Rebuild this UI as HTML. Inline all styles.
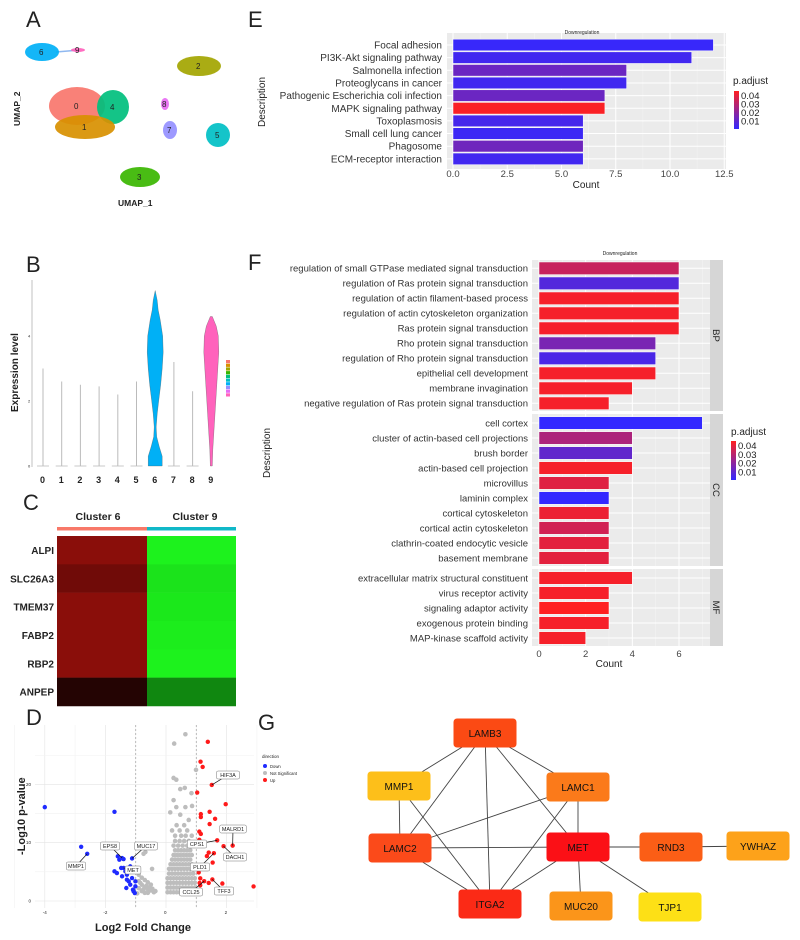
<!DOCTYPE html>
<html><head><meta charset="utf-8"><style>
html,body{margin:0;padding:0;background:#fff}
svg{display:block;font-family:"Liberation Sans",sans-serif}
</style></head><body>
<svg id="fig" width="800" height="940" viewBox="0 0 800 940" xmlns="http://www.w3.org/2000/svg"></svg>
<script>
// ---------- DATA ----------
const keggTerms=["Focal adhesion","PI3K-Akt signaling pathway","Salmonella infection","Proteoglycans in cancer","Pathogenic Escherichia coli infection","MAPK signaling pathway","Toxoplasmosis","Small cell lung cancer","Phagosome","ECM-receptor interaction"];
const keggCounts=[12,11,8,8,7,7,6,6,6,6];
const keggPadj=[0.002,0.004,0.013,0.004,0.013,0.044,0.005,0.003,0.014,0.004];
const eTicks=[0,2.5,5,7.5,10,12.5];
const eTickLabels=["0.0","2.5","5.0","7.5","10.0","12.5"];

const bpTerms=["regulation of small GTPase mediated signal transduction","regulation of Ras protein signal transduction","regulation of actin filament-based process","regulation of actin cytoskeleton organization","Ras protein signal transduction","Rho protein signal transduction","regulation of Rho protein signal transduction","epithelial cell development","membrane invagination","negative regulation of Ras protein signal transduction"];
const bpCounts=[6,6,6,6,6,5,5,5,4,3];
const bpPadj=[0.033,0.008,0.043,0.043,0.043,0.016,0.006,0.043,0.043,0.043];
const ccTerms=["cell cortex","cluster of actin-based cell projections","brush border","actin-based cell projection","microvillus","laminin complex","cortical cytoskeleton","cortical actin cytoskeleton","clathrin-coated endocytic vesicle","basement membrane"];
const ccCounts=[7,4,4,4,3,3,3,3,3,3];
const ccPadj=[0.001,0.027,0.011,0.043,0.038,0.001,0.041,0.035,0.039,0.039];
const mfTerms=["extracellular matrix structural constituent","virus receptor activity","signaling adaptor activity","exogenous protein binding","MAP-kinase scaffold activity"];
const mfCounts=[4,3,3,3,2];
const mfPadj=[0.043,0.043,0.045,0.043,0.043];
const fTicks=[0,2,4,6];

const violinClusters=["0","1","2","3","4","5","6","7","8","9"];
const violinMax=[3.0,2.6,2.5,2.45,2.2,2.6,5.4,3.2,2.3,4.6];
const violinLevels6=[0,0.3,0.6,0.9,1.2,1.6,2,2.5,3,3.5,4,4.5,4.8,5.1,5.4];
const violinDensity6=[7,7,4,1.5,1,2,3.5,5.5,7,8,7.5,5,3,2,0];
const violinLevels9=[0,0.5,1,1.5,2,2.5,3,3.5,4,4.3,4.6];
const violinDensity9=[1,1.5,2.5,3.5,4.5,5.5,6.5,7.5,7,5,1];
const violinColors=["#f8766d","#d89000","#a3a500","#39b600","#00bf7d","#00bfc4","#00b0f6","#9590ff","#e76bf3","#ff62bc"];

const heatGenes=["ALPI","SLC26A3","TMEM37","FABP2","RBP2","ANPEP"];
const heatCluster6=[0.54,0.44,0.54,0.54,0.54,0.14];
const heatCluster9=[-0.95,-0.89,-0.91,-0.93,-0.95,-0.53];

const downPts=[[-4.0,16.1],[-1.7,15.3],[-2.8,9.3],[-2.6,8.1],[-1.59,7.66],[-1.54,7.09],[-1.45,7.37],[-1.40,7.2],[-1.12,7.31],[-1.70,5.09],[-1.62,4.8],[-1.48,5.66],[-1.45,4.23],[-1.34,5.09],[-1.29,3.66],[-1.23,3.37],[-1.31,2.23],[-1.18,2.8],[-1.09,1.94],[-1.07,1.66],[-1.03,1.37],[-1.01,2.51],[-1.12,3.94],[-1.40,5.66],[-1.18,5.94],[-1.01,3.37],[-1.29,4.51]];
const upPts=[[1.38,27.3],[1.14,23.9],[1.21,23.0],[1.03,18.6],[1.51,19.9],[1.97,16.6],[1.15,14.9],[1.15,14.4],[1.44,15.3],[1.62,14.1],[1.44,13.2],[1.10,11.9],[1.15,11.5],[1.69,10.4],[2.20,9.5],[1.90,9.4],[1.10,10.5],[1.41,8.3],[1.58,8.2],[1.54,6.6],[1.08,4.9],[1.13,3.9],[1.26,3.4],[1.11,3.1],[1.13,2.7],[1.41,3.1],[1.53,3.7],[1.86,3.0],[2.89,2.5],[1.35,7.7]];
const nsPts=[[0.64,28.6],[0.27,27],[0.99,22.5],[0.25,21.1],[0.34,20.8],[0.47,19.2],[0.62,19.4],[0.84,18.5],[0.25,17.3],[0.34,16.1],[0.64,16.1],[0.86,16.3],[0.14,15.2],[0.47,14.8],[0.75,13.9],
[-0.68,8.4],[-0.74,8.1],[-0.46,5.5],[-0.9,4.5],[-0.8,4.0],[-0.7,3.6],[-0.6,3.2],[-0.5,2.8],[-0.9,3.4],[-0.8,2.8],[-0.7,2.4],[-0.6,2.0],[-0.5,1.8],[-0.9,2.2],[-0.8,1.7],[-0.7,1.4],[-0.4,1.5],[-0.95,1.3],[-0.85,3.1],[-0.75,2.0],[-0.65,2.6],[-0.55,2.3],[-0.45,2.1],[-0.35,1.7],[-0.6,1.4],
[0.05,1.5],[0.15,1.5],[0.25,1.5],[0.35,1.5],[0.45,1.5],[0.55,1.5],[0.65,1.5],[0.75,1.5],[0.85,1.5],[0.95,1.5],
[0.05,2.3],[0.15,2.3],[0.25,2.3],[0.35,2.3],[0.45,2.3],[0.55,2.3],[0.65,2.3],[0.75,2.3],[0.85,2.3],[0.95,2.3],
[0.05,3.1],[0.15,3.1],[0.25,3.1],[0.35,3.1],[0.45,3.1],[0.55,3.1],[0.65,3.1],[0.75,3.1],[0.85,3.1],[0.95,3.1],
[0.05,3.9],[0.15,3.9],[0.25,3.9],[0.35,3.9],[0.45,3.9],[0.55,3.9],[0.65,3.9],[0.75,3.9],[0.85,3.9],[0.95,3.9],
[0.1,4.7],[0.2,4.7],[0.3,4.7],[0.4,4.7],[0.5,4.7],[0.6,4.7],[0.7,4.7],[0.8,4.7],[0.9,4.7],
[0.1,5.5],[0.2,5.5],[0.3,5.5],[0.4,5.5],[0.5,5.5],[0.6,5.5],[0.7,5.5],[0.8,5.5],[0.9,5.5],
[0.15,6.3],[0.25,6.3],[0.35,6.3],[0.45,6.3],[0.55,6.3],[0.65,6.3],[0.75,6.3],[0.85,6.3],
[0.2,7.1],[0.3,7.1],[0.4,7.1],[0.5,7.1],[0.6,7.1],[0.7,7.1],[0.8,7.1],
[0.25,7.9],[0.35,7.9],[0.45,7.9],[0.55,7.9],[0.65,7.9],[0.75,7.9],[0.85,7.9],
[0.3,8.7],[0.4,8.7],[0.5,8.7],[0.6,8.7],[0.7,8.7],[0.8,8.7],
[0.25,9.5],[0.4,9.5],[0.55,9.5],[0.7,9.5],[0.85,9.5],
[0.3,10.3],[0.45,10.3],[0.6,10.3],[0.75,10.3],
[0.3,11.2],[0.5,11.2],[0.65,11.2],[0.85,11.2],
[0.2,12.1],[0.45,12.1],[0.7,12.1],[0.35,13.0],[0.6,13.0]];
const volXTicks=[-4,-2,0,2];
const volYTicks=[0,10,20];

const netNodes=["LAMB3","MMP1","LAMC1","LAMC2","MET","RND3","YWHAZ","ITGA2","MUC20","TJP1"];
const netColors=["#fb4a14","#fdbf1a","#fb7a1a","#fb4a1a","#fb1016","#fb5e16","#fda21a","#fb2a16","#fb951a","#fde016"];
const netEdges=[["LAMB3","MMP1"],["LAMB3","LAMC2"],["LAMB3","ITGA2"],["LAMB3","MET"],["LAMB3","LAMC1"],["MMP1","LAMC2"],["MMP1","ITGA2"],["LAMC1","LAMC2"],["LAMC1","ITGA2"],["LAMC1","MET"],["LAMC2","MET"],["LAMC2","ITGA2"],["MET","ITGA2"],["MET","RND3"],["RND3","YWHAZ"],["MET","MUC20"],["MET","TJP1"]];

// ---------- HELPERS ----------
const S=document.getElementById('fig');const NS="http://www.w3.org/2000/svg";
function mk(tag,attrs,name,parent,txt){
  const el=document.createElementNS(NS,tag);
  for(const k in attrs)el.setAttribute(k,attrs[k]);
  
  
  if(txt!==undefined)el.textContent=txt;
  (parent||S).appendChild(el);return el;
}
function padjColor(p){const t=Math.max(0,Math.min(1,(p-0.001)/0.044));
  return `rgb(${Math.round(51+t*204)},${Math.round(40-t*8)},${Math.round(255-t*223)})`;}
function label(x,y,t,size,name,extra){return mk('text',Object.assign({x:x,y:y,'font-size':size,fill:'#222'},extra||{}),name,S,t);}

// panel letters
[["A",26,27],["E",248,27],["B",26,272],["F",248,270],["C",23,510],["D",26,725],["G",258,730]].forEach(l=>{
  label(l[1],l[2],l[0],22,'panel-letter-'+l[0].toLowerCase());
});

// ---------- A: UMAP ----------
const umap=[["#00b0f6",42,52,17,9,"6"],["#ff62bc",78,50,7,2,"9"],["#f8766d",77,106,28,19,"0"],["#00bf7d",113,107,16,17,"4"],["#d89000",85,127,30,12,"1"],["#a3a500",199,66,22,10,"2"],["#e76bf3",165,104,4,6,"8"],["#9590ff",170,130,7,9,"7"],["#00bfc4",218,135,12,12,"5"],["#39b600",140,177,20,10,"3"]];
mk('line',{x1:56,y1:52,x2:80,y2:50,stroke:'#8fb8f0','stroke-width':1.5},'umap-bridge');
umap.forEach(c=>{mk('ellipse',{cx:c[1],cy:c[2],rx:c[3],ry:c[4],fill:c[0],opacity:0.92},'umap-cluster-'+c[5]);});
umap.forEach(c=>{label(c[1]-3,c[2]+3,c[5],8,'umap-label-'+c[5]);});
label(118,206,"UMAP_1",8.5,'umap-x-title',{'font-weight':'bold'});
label(0,0,"UMAP_2",8.5,'umap-y-title',{'font-weight':'bold',transform:'translate(20,126) rotate(-90)'});

// ---------- B: violin ----------
const vx=i=>43+i*18.7, vy=v=>466-v*32.5;
mk('line',{x1:32,y1:280,x2:32,y2:467,stroke:'#999','stroke-width':0.6},'violin-y-axis');
[0,2,4].forEach(t=>label(28,vy(t)+1.5,String(t),4,'violin-y-tick'));
label(0,0,"Expression level",10,'violin-y-title',{'font-weight':'bold',transform:'translate(18,412) rotate(-90)'});
violinClusters.forEach((c,i)=>{
  label(vx(i)-3,483,c,9,'violin-x-label',{'font-weight':'bold'});
  if(i===6||i===9){
    const L=i===6?violinLevels6:violinLevels9, D=i===6?violinDensity6:violinDensity9;
    let d="M"+(vx(i)+D[0])+","+vy(L[0]);
    for(let k=1;k<L.length;k++)d+=" L"+(vx(i)+D[k])+","+vy(L[k]);
    for(let k=L.length-1;k>=0;k--)d+=" L"+(vx(i)-D[k])+","+vy(L[k]);
    mk('path',{d:d+"Z",fill:violinColors[i],stroke:'#555','stroke-width':0.3},'violin-cluster-'+c);
  } else {
    mk('line',{x1:vx(i),y1:vy(0),x2:vx(i),y2:vy(violinMax[i]),stroke:'#bbb','stroke-width':1},'violin-cluster-'+c);
    mk('line',{x1:vx(i)-6,y1:vy(0),x2:vx(i)+6,y2:vy(0),stroke:'#bbb','stroke-width':0.8},'violin-base-'+c);
  }
});
violinColors.forEach((col,i)=>mk('rect',{x:226,y:360+i*3.7,width:4,height:3.2,fill:col},'violin-legend-key'));

// ---------- C: heatmap ----------
label(98,520,"Cluster 6",10.5,'heatmap-col-label-6',{'font-weight':'bold','text-anchor':'middle'});
label(195,520,"Cluster 9",10.5,'heatmap-col-label-9',{'font-weight':'bold','text-anchor':'middle'});
mk('rect',{x:57,y:527,width:90,height:3.5,fill:'#f87868'},'cluster6-bar');
mk('rect',{x:147,y:527,width:89,height:3.5,fill:'#10b8c8'},'cluster9-bar');
const hy=i=>536+i*28.33;
heatGenes.forEach((g,i)=>{
  const a=heatCluster6[i],b=heatCluster9[i];
  const col=v=>v>=0?`rgb(${Math.round(255*v)},${Math.round(25*v)},${Math.round(18*v)})`:`rgb(${Math.round(-30*v)},${Math.round(-255*v)},${Math.round(-30*v)})`;
  mk('rect',{x:57,y:hy(i),width:90,height:28.6,fill:col(a)},'heat-cell-c6-'+g);
  mk('rect',{x:147,y:hy(i),width:89,height:28.6,fill:col(b)},'heat-cell-c9-'+g);
  label(54,hy(i)+18,g,10,'heat-gene-'+g,{'font-weight':'bold','text-anchor':'end'});
});

// ---------- D: volcano ----------
const dx=v=>166+v*30.3, dy=v=>901-v*5.83;
[-5,-4,-3,-2,-1,0,1,2,3].forEach(t=>mk('line',{x1:dx(t),y1:725,x2:dx(t),y2:908,stroke:t%2===0?'#e4e4e4':'#f2f2f2','stroke-width':0.6},'volcano-grid-x'));
[0,5,10,15,20,25].forEach(t=>mk('line',{x1:35,y1:dy(t),x2:254,y2:dy(t),stroke:t%10===0?'#e4e4e4':'#f2f2f2','stroke-width':0.6},'volcano-grid-y'));
[-1,1].forEach(t=>mk('line',{x1:dx(t),y1:725,x2:dx(t),y2:908,stroke:'#aaa','stroke-width':0.8,'stroke-dasharray':'2,2'},'volcano-threshold'));
nsPts.forEach(p=>mk('circle',{cx:dx(p[0]),cy:dy(p[1]),r:2.3,fill:'#bdbdbd'},'point-not-significant'));
downPts.forEach(p=>mk('circle',{cx:dx(p[0]),cy:dy(p[1]),r:2.2,fill:'#1f2bff'},'point-down'));
upPts.forEach(p=>mk('circle',{cx:dx(p[0]),cy:dy(p[1]),r:2.2,fill:'#ff1a1a'},'point-up'));
volXTicks.forEach(t=>label(dx(t)-2,914,String(t),4.5,'volcano-x-tick'));
volYTicks.forEach(t=>label(31,dy(t)+1.5,String(t),4.5,'volcano-y-tick',{'text-anchor':'end'}));
const geneLabels=[["HIF3A",228,775,1.51,19.9],["MALRD1",233,829,2.20,9.5],["DACH1",235,857,1.90,9.4],["CPS1",197,844,1.69,10.4],["PLD1",200,867,1.58,8.2],["CCL25",191,892,1.26,3.4],["TFF3",224,891,1.53,3.7],["EPS8",110,846,-1.45,7.37],["MUC17",146,846,-1.12,7.31],["MET",133,870,-1.40,5.66],["MMP1",76,866,-2.6,8.1]];
geneLabels.forEach(g=>{
  mk('line',{x1:g[1],y1:g[2],x2:dx(g[3]),y2:dy(g[4]),stroke:'#111','stroke-width':0.7},'gene-label-leader');
  const w=g[0].length*3.6+5;
  mk('rect',{x:g[1]-w/2,y:g[2]-4,width:w,height:8,rx:1.5,fill:'#fff',stroke:'#777','stroke-width':0.5},'gene-label-box');
  label(g[1],g[2]+2,g[0],5.5,'gene-label-'+g[0],{'text-anchor':'middle'});
});
label(0,0,"-Log10 p-value",11,'volcano-y-title',{'font-weight':'bold',transform:'translate(25,855) rotate(-90)'});
label(95,931,"Log2 Fold Change",11,'volcano-x-title',{'font-weight':'bold'});
label(262,758,"direction",4.5,'volcano-legend-title');
[["#1f2bff","Down"],["#bdbdbd","Not Significant"],["#ff1a1a","Up"]].forEach((e,i)=>{
  mk('circle',{cx:265,cy:766+i*7,r:2,fill:e[0]},'legend-key-'+e[1]);
  label(270,768+i*7,e[1],4.2,'legend-entry-'+e[1]);
});

// ---------- E: KEGG bars ----------
const ex=v=>453+v*21.7, ey=i=>45+i*12.65;
mk('rect',{x:447,y:33,width:279,height:136,fill:'#ebebeb'},'kegg-panel-bg');
[1.25,3.75,6.25,8.75,11.25].forEach(t=>mk('line',{x1:ex(t),y1:33,x2:ex(t),y2:169,stroke:'#f5f5f5','stroke-width':0.5},'kegg-minor-grid'));
eTicks.forEach(t=>mk('line',{x1:ex(t),y1:33,x2:ex(t),y2:169,stroke:'#fff','stroke-width':1},'kegg-major-grid'));
keggTerms.forEach((t,i)=>{
  mk('line',{x1:447,y1:ey(i),x2:726,y2:ey(i),stroke:'#fff','stroke-width':1},'kegg-row-grid');
  mk('rect',{x:ex(0),y:ey(i)-5.8,width:ex(keggCounts[i])-ex(0),height:11.6,fill:padjColor(keggPadj[i]),stroke:'#fff','stroke-width':0.5},'kegg-bar');
  label(442,ey(i)+3.5,t,10,'kegg-term-label',{'text-anchor':'end',fill:'#333'});
});
eTicks.forEach((t,i)=>label(ex(t),177,eTickLabels[i],9.5,'kegg-x-tick',{'text-anchor':'middle',fill:'#444'}));
label(586,188,"Count",10,'kegg-x-title',{'text-anchor':'middle'});
label(0,0,"Description",10,'kegg-y-title',{'text-anchor':'middle',transform:'translate(265,102) rotate(-90)'});
label(582,34,"Downregulation",5,'kegg-title',{'text-anchor':'middle'});
function colorbar(x,y0,y1,name,fs){
  const g=mk('defs',{},name+'-defs');
  const lg=mk('linearGradient',{id:name+'-grad',x1:0,y1:1,x2:0,y2:0},name+'-gradient',g);
  mk('stop',{offset:0,'stop-color':padjColor(0.001)},name+'-stop',lg);
  mk('stop',{offset:1,'stop-color':padjColor(0.045)},name+'-stop',lg);
  mk('rect',{x:x,y:y0,width:5,height:y1-y0,fill:`url(#${name}-grad)`},name);
  [0.01,0.02,0.03,0.04].forEach(v=>{
    const yy=y1-(v-0.001)/0.044*(y1-y0);
    label(x+7,yy+3.5,v.toFixed(2),fs,name+'-tick');
  });
}
label(733,84,"p.adjust",10,'kegg-legend-title');
colorbar(734,91,129,'kegg-colorbar',9.5);

// ---------- F: GO bars ----------
const fx=v=>539+v*23.33;
const facets=[["BP",bpTerms,bpCounts,bpPadj,260,411,268.3],["CC",ccTerms,ccCounts,ccPadj,414,566,423],["MF",mfTerms,mfCounts,mfPadj,569,646,578]];
facets.forEach(f=>{
  mk('rect',{x:532,y:f[4],width:178,height:f[5]-f[4],fill:'#ebebeb'},'go-panel-bg-'+f[0]);
  mk('rect',{x:710,y:f[4],width:13,height:f[5]-f[4],fill:'#d6d6d6'},'go-strip-'+f[0]);
  label(0,0,f[0],9.5,'go-strip-label-'+f[0],{'text-anchor':'middle',transform:`translate(713,${(f[4]+f[5])/2}) rotate(90)`});
  [1,3,5,7].forEach(t=>mk('line',{x1:fx(t),y1:f[4],x2:fx(t),y2:f[5],stroke:'#f5f5f5','stroke-width':0.5},'go-minor-grid'));
  fTicks.forEach(t=>mk('line',{x1:fx(t),y1:f[4],x2:fx(t),y2:f[5],stroke:'#fff','stroke-width':1},'go-major-grid'));
  f[1].forEach((t,i)=>{
    const y=f[6]+i*15;
    mk('line',{x1:532,y1:y,x2:710,y2:y,stroke:'#fff','stroke-width':1},'go-row-grid');
    mk('rect',{x:fx(0),y:y-6.3,width:fx(f[2][i])-fx(0),height:12.6,fill:padjColor(f[3][i]),stroke:'#fff','stroke-width':0.5},'go-bar-'+f[0]);
    label(528,y+3.3,t,9.5,'go-term-label',{'text-anchor':'end',fill:'#333'});
  });
});
fTicks.forEach(t=>label(fx(t),657,String(t),9.5,'go-x-tick',{'text-anchor':'middle',fill:'#444'}));
label(609,667,"Count",10,'go-x-title',{'text-anchor':'middle'});
label(0,0,"Description",10,'go-y-title',{'text-anchor':'middle',transform:'translate(270,453) rotate(-90)'});
label(620,255,"Downregulation",5,'go-title',{'text-anchor':'middle'});
label(731,435,"p.adjust",10,'go-legend-title');
colorbar(731,441,480,'go-colorbar',9.5);

// ---------- G: network ----------
const nodePos={LAMB3:[485,733],MMP1:[399,786],LAMC1:[578,787],LAMC2:[400,848],MET:[578,847],RND3:[671,847],YWHAZ:[758,846],ITGA2:[490,904],MUC20:[581,906],TJP1:[670,907]};
netEdges.forEach(e=>{const a=nodePos[e[0]],b=nodePos[e[1]];
  mk('line',{x1:a[0],y1:a[1],x2:b[0],y2:b[1],stroke:'#444','stroke-width':0.9},'edge-'+e[0]+'-'+e[1]);});
netNodes.forEach((n,i)=>{const p=nodePos[n];
  mk('rect',{x:p[0]-31,y:p[1]-14,width:62,height:28,rx:3,fill:netColors[i],stroke:netColors[i]},'node-'+n);
  label(p[0],p[1]+4,n,10,'node-label-'+n,{'text-anchor':'middle',fill:'#111'});
});
</script>
</body></html>
